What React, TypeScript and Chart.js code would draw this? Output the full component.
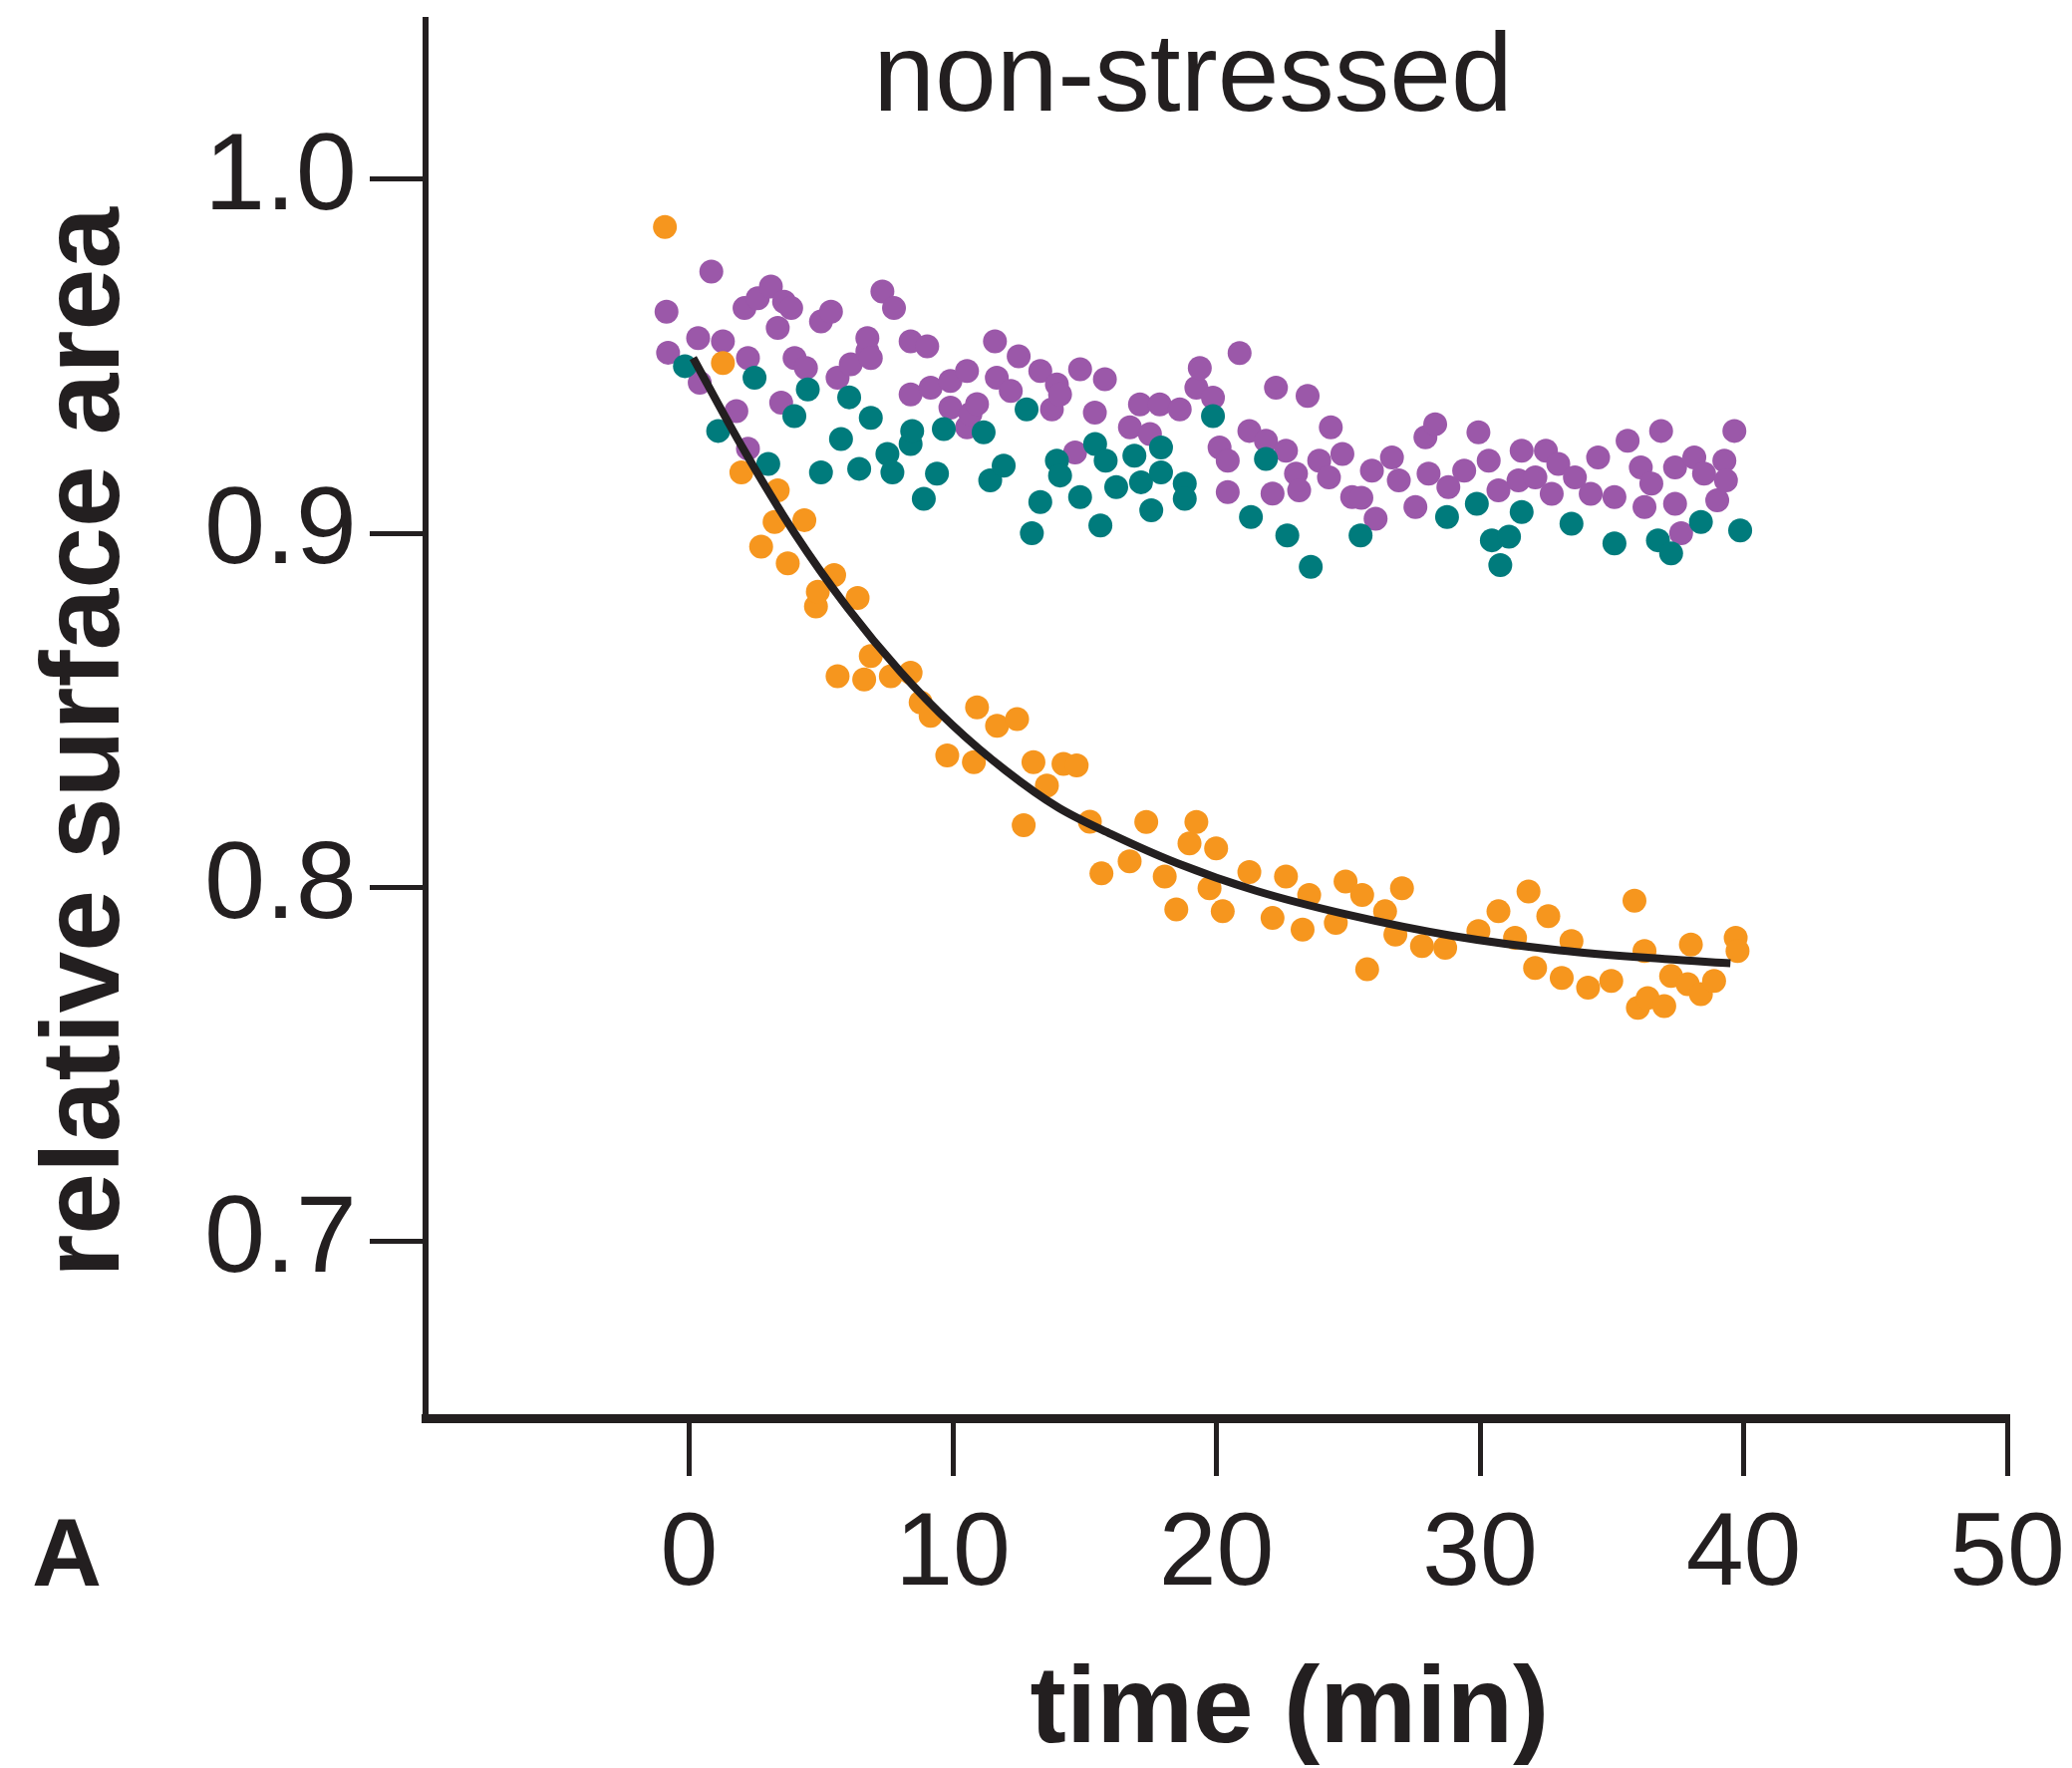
import React, { useEffect, useRef } from "react";
import { Chart, registerables } from "chart.js";

Chart.register(...registerables);

// ---------- data ----------
const TITLE = "non-stressed";
const X_TITLE = "time (min)";
const Y_TITLE = "relative surface area";
const PANEL = "A";

const X_TICKS = [0, 10, 20, 30, 40, 50];
const Y_TICKS = [0.7, 0.8, 0.9, 1.0];

const ORANGE_X = [-0.92, 1.28, 1.98, 2.73, 3.24, 3.36, 3.74, 4.37, 4.81, 4.88, 5.5, 5.63, 6.39, 6.64, 6.89, 7.65, 8.4, 8.78, 9.16, 9.79, 10.8, 10.92, 11.68, 12.44, 12.69, 13.06, 13.57, 14.2, 14.7, 15.2, 15.64, 16.71, 17.34, 18.04, 18.48, 18.98, 19.24, 19.74, 19.99, 20.24, 21.25, 22.13, 22.64, 23.27, 23.52, 24.53, 24.9, 25.53, 25.72, 26.4, 26.79, 27.04, 27.8, 28.68, 29.94, 30.7, 31.33, 31.84, 32.09, 32.59, 33.1, 33.47, 34.1, 34.98, 35.86, 35.99, 36.24, 36.36, 36.99, 37.25, 37.88, 38.0, 38.38, 38.88, 39.7, 39.77];
const ORANGE_Y = [0.9865, 0.9481, 0.9172, 0.8962, 0.9032, 0.9121, 0.8915, 0.9037, 0.8793, 0.8835, 0.8882, 0.8596, 0.8817, 0.8587, 0.8653, 0.8596, 0.8606, 0.8522, 0.8484, 0.8372, 0.8353, 0.8508, 0.8456, 0.8475, 0.8175, 0.8353, 0.8287, 0.8348, 0.8344, 0.8185, 0.8039, 0.8073, 0.8184, 0.803, 0.7937, 0.8124, 0.8184, 0.7997, 0.811, 0.7932, 0.8043, 0.7913, 0.803, 0.788, 0.7978, 0.7899, 0.8016, 0.7978, 0.7768, 0.7932, 0.7866, 0.7997, 0.7834, 0.7829, 0.7876, 0.7932, 0.7857, 0.7988, 0.7772, 0.7918, 0.7744, 0.7848, 0.7716, 0.7735, 0.7962, 0.7659, 0.782, 0.7687, 0.7664, 0.7749, 0.7726, 0.7838, 0.7698, 0.7735, 0.7857, 0.782];

const PURPLE_X = [-0.86, -0.8, 0.34, 0.4, 0.84, 1.28, 1.79, 2.1, 2.23, 2.23, 2.6, 3.1, 3.36, 3.49, 3.6, 3.87, 4.0, 4.43, 5.0, 5.38, 5.63, 6.13, 6.76, 6.76, 6.89, 7.33, 7.77, 8.4, 8.4, 9.03, 9.16, 9.91, 9.91, 10.54, 10.54, 10.67, 10.92, 11.6, 11.67, 12.2, 12.5, 13.32, 13.76, 13.95, 14.07, 14.64, 14.83, 15.39, 15.77, 16.72, 17.1, 17.48, 17.85, 18.61, 19.24, 19.37, 19.87, 20.12, 20.43, 20.43, 20.88, 21.25, 21.88, 22.13, 22.26, 22.64, 23.02, 23.14, 23.46, 23.9, 24.27, 24.34, 24.78, 25.15, 25.5, 25.9, 26.04, 26.66, 26.92, 27.55, 27.93, 28.05, 28.3, 28.8, 29.4, 29.94, 30.33, 30.7, 31.46, 31.58, 32.1, 32.5, 32.72, 32.97, 33.6, 34.2, 34.48, 35.1, 35.6, 36.1, 36.24, 36.5, 36.87, 37.4, 37.4, 37.63, 38.13, 38.5, 39.0, 39.27, 39.33, 39.65];
const PURPLE_Y = [0.9626, 0.951, 0.9551, 0.9425, 0.9739, 0.9542, 0.9345, 0.9636, 0.9495, 0.9239, 0.9664, 0.9697, 0.958, 0.9369, 0.9654, 0.9636, 0.9495, 0.9467, 0.9598, 0.9626, 0.9439, 0.9477, 0.9514, 0.9551, 0.9495, 0.9683, 0.9636, 0.9542, 0.9392, 0.9528, 0.9411, 0.943, 0.9355, 0.9458, 0.9299, 0.9337, 0.9365, 0.9542, 0.9439, 0.9402, 0.95, 0.9458, 0.935, 0.942, 0.9392, 0.9228, 0.9463, 0.9341, 0.9435, 0.9299, 0.9364, 0.928, 0.9364, 0.935, 0.9411, 0.9467, 0.9383, 0.9242, 0.9205, 0.9116, 0.9509, 0.9289, 0.9261, 0.9112, 0.9411, 0.9233, 0.9168, 0.9121, 0.9388, 0.9205, 0.9158, 0.9299, 0.9224, 0.9102, 0.91, 0.9177, 0.9041, 0.9214, 0.9149, 0.9074, 0.9271, 0.9168, 0.9308, 0.913, 0.9177, 0.9285, 0.9205, 0.9121, 0.9149, 0.9233, 0.9158, 0.9233, 0.9111, 0.9196, 0.9158, 0.9111, 0.9214, 0.9102, 0.9261, 0.9186, 0.9074, 0.914, 0.9289, 0.9186, 0.9083, 0.9, 0.9214, 0.9168, 0.9093, 0.9205, 0.9149, 0.9289];

const TEAL_X = [-0.16, 1.1, 2.48, 3.0, 3.99, 4.5, 5.0, 5.76, 6.07, 6.45, 6.89, 7.52, 7.71, 8.4, 8.46, 8.9, 9.4, 9.66, 11.17, 11.42, 11.93, 12.8, 13.0, 13.32, 13.95, 14.07, 14.83, 15.4, 15.6, 15.8, 16.2, 16.89, 17.14, 17.53, 17.9, 17.9, 18.8, 18.8, 19.87, 21.31, 21.88, 22.69, 23.58, 25.47, 28.75, 29.88, 30.45, 30.77, 31.1, 31.58, 33.47, 35.1, 36.75, 37.25, 38.38, 39.87];
const TEAL_Y = [0.9472, 0.9289, 0.9439, 0.9196, 0.9331, 0.9406, 0.9172, 0.9266, 0.9384, 0.9182, 0.9326, 0.9224, 0.9172, 0.9252, 0.9289, 0.9097, 0.9168, 0.9294, 0.9285, 0.9149, 0.9191, 0.935, 0.9, 0.9088, 0.9205, 0.9163, 0.9102, 0.9252, 0.9022, 0.9205, 0.913, 0.9219, 0.9144, 0.9065, 0.9242, 0.9172, 0.914, 0.9097, 0.9331, 0.9046, 0.921, 0.8994, 0.8905, 0.8994, 0.9046, 0.9083, 0.898, 0.891, 0.899, 0.906, 0.9027, 0.8971, 0.898, 0.8943, 0.9032, 0.9008];

// fitted curve
const FIT_X = [0.15, 2, 4, 6, 8, 10, 12, 14, 16, 18.5, 21.5, 25, 29, 33, 37, 39.5];
const FIT_Y = [0.9495, 0.9245, 0.9, 0.879, 0.861, 0.8457, 0.833, 0.8225, 0.815, 0.8068, 0.799, 0.7922, 0.7862, 0.7822, 0.7797, 0.7785];

// ---------- styles ----------
const W = 2079;
const H = 1774;
const INK = "#231F20";
const ORANGE = "#F6961E";
const PURPLE = "#9B58A9";
const TEAL = "#007B7C";
const FAMILY = '"Liberation Sans", Arial, Helvetica, sans-serif';
const DOT = 12;

const pts = (xs: number[], ys: number[]) => xs.map((x, i) => ({ x, y: ys[i] }));

const textPlugin = {
  id: "panelTexts",
  afterDraw(chart: any) {
    const ctx = chart.ctx as CanvasRenderingContext2D;
    ctx.save();
    ctx.fillStyle = INK;
    ctx.textAlign = "center";
    ctx.textBaseline = "alphabetic";
    ctx.font = `111px ${FAMILY}`;
    ctx.fillText(TITLE, 1197, 111);
    ctx.font = `bold 109px ${FAMILY}`;
    ctx.fillText(X_TITLE, 1294, 1748);
    ctx.save();
    ctx.translate(119, 745);
    ctx.rotate(-Math.PI / 2);
    ctx.font = `bold 111px ${FAMILY}`;
    ctx.fillText(Y_TITLE, 0, 0);
    ctx.restore();
    ctx.font = `bold 97px ${FAMILY}`;
    ctx.fillText(PANEL, 67, 1591);
    ctx.restore();
  },
};

export default function App() {
  const ref = useRef<HTMLCanvasElement | null>(null);

  useEffect(() => {
    if (!ref.current) return;
    const chart = new Chart(ref.current, {
      type: "scatter",
      data: {
        datasets: [
          {
            type: "line",
            label: "fit",
            data: pts(FIT_X, FIT_Y),
            borderColor: INK,
            borderWidth: 8,
            pointRadius: 0,
            fill: false,
            cubicInterpolationMode: "monotone",
            order: 0,
          } as any,
          {
            label: "orange",
            data: pts(ORANGE_X, ORANGE_Y),
            backgroundColor: ORANGE,
            borderWidth: 0,
            pointRadius: DOT,
            order: 1,
          },
          {
            label: "teal",
            data: pts(TEAL_X, TEAL_Y),
            backgroundColor: TEAL,
            borderWidth: 0,
            pointRadius: DOT,
            order: 2,
          },
          {
            label: "purple",
            data: pts(PURPLE_X, PURPLE_Y),
            backgroundColor: PURPLE,
            borderWidth: 0,
            pointRadius: DOT,
            order: 3,
          },
        ],
      },
      options: {
        responsive: false,
        animation: false,
        devicePixelRatio: 1,
        layout: { padding: { top: 20, right: 65, left: 0, bottom: 0 } },
        plugins: { legend: { display: false }, tooltip: { enabled: false } },
        scales: {
          x: {
            type: "linear",
            min: -10,
            max: 50,
            afterBuildTicks: (s: any) => {
              s.ticks = X_TICKS.map((v) => ({ value: v }));
            },
            afterFit: (s: any) => {
              s.height = H - 1423;
              s.paddingLeft = 0;
              s.paddingRight = 0;
            },
            grid: {
              display: true,
              drawOnChartArea: false,
              drawTicks: true,
              tickLength: 58,
              tickWidth: 5,
              lineWidth: 5,
              color: INK,
            },
            border: { display: true, width: 9, color: INK },
            ticks: {
              font: { family: FAMILY, size: 104 },
              color: INK,
              padding: 18,
              maxRotation: 0,
              autoSkip: false,
            },
          },
          y: {
            type: "linear",
            min: 0.65,
            max: 1.045,
            afterBuildTicks: (s: any) => {
              s.ticks = Y_TICKS.map((v) => ({ value: v }));
            },
            afterFit: (s: any) => {
              s.width = 427;
              s.paddingTop = 0;
              s.paddingBottom = 0;
            },
            grid: {
              display: true,
              drawOnChartArea: false,
              drawTicks: true,
              tickLength: 56,
              tickWidth: 5,
              lineWidth: 5,
              color: INK,
            },
            border: { display: true, width: 6, color: INK },
            ticks: {
              font: { family: FAMILY, size: 110 },
              color: INK,
              padding: 13,
              autoSkip: false,
              callback: (v: any) => Number(v).toFixed(1),
            },
          },
        },
      },
      plugins: [textPlugin],
    });
    return () => chart.destroy();
  }, []);

  return (
    <div style={{ position: "fixed", left: 0, top: 0, width: W, height: H, background: "#fff" }}>
      <canvas ref={ref} width={W} height={H} style={{ display: "block", width: W, height: H }} />
    </div>
  );
}
